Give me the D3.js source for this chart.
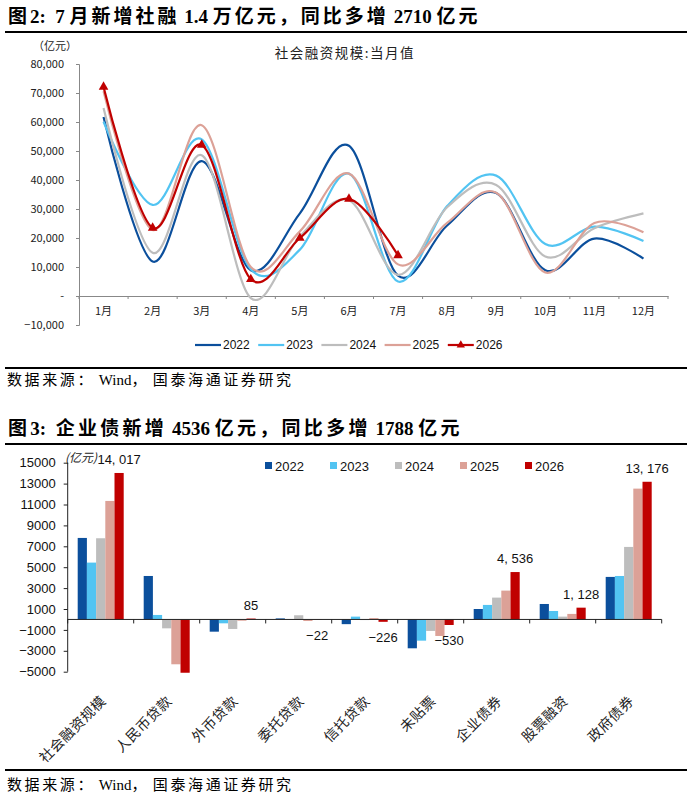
<!DOCTYPE html>
<meta charset="utf-8">
<style>
body { margin: 0; background: #fff; }
svg { display: block; }
.title { font-family: "Liberation Serif", "Noto Sans CJK SC", serif; font-weight: bold; font-size: 19px; fill: #000; white-space: pre; }
.foot { font-family: "Liberation Serif", "Noto Sans CJK SC", serif; font-size: 15px; fill: #000; }
.cjk { font-family: "Noto Sans CJK SC", sans-serif; fill: #222; }
.arial { font-family: "Liberation Sans", Arial, sans-serif; fill: #111; }
</style>
<svg width="691" height="797"></svg>
<script src="https://d3js.org/d3.v7.min.js"></script>
<script>

// ---- chart 1: 社会融资规模 当月值 (亿元)
var months = ["1月","2月","3月","4月","5月","6月","7月","8月","9月","10月","11月","12月"];
var years = ["2022","2023","2024","2025","2026"];
var tsf2022 = [61700, 11900, 46500, 8900, 28500, 51800, 7000, 24300, 35500, 8900, 19800, 12900];
var tsf2023 = [60100, 31400, 54000, 9200, 16000, 42200, 5000, 31000, 41500, 17900, 23900, 19000];
var tsf2024 = [64800, 14900, 48500, -700, 20600, 33000, 7300, 30600, 38300, 13600, 23400, 28500];
var tsf2025 = [70600, 22800, 58900, 10000, 22300, 42200, 10900, 25200, 35600, 8100, 25200, 22000];
var tsf2026 = [72100, 23500, 52100, 5800, 20000, 33500, 14000];
var yTicks1 = [-10000, 0, 10000, 20000, 30000, 40000, 50000, 60000, 70000, 80000];

// ---- chart 2: 社融分项 7月 (亿元)
var cats = ["社会融资规模","人民币贷款","外币贷款","委托贷款","信托贷款","未贴票","企业债券","股票融资","政府债券"];
var bar2022 = [7800, 4160, -1170, 100, -450, -2760, 1000, 1480, 4070];
var bar2023 = [5440, 430, -370, 30, 270, -2030, 1390, 810, 4160];
var bar2024 = [7770, -850, -910, 400, -60, -1100, 2090, 270, 6940];
var bar2025 = [11340, -4290, -120, -150, 130, -1580, 2760, 530, 12520];
var bar2026 = [14017, -5100, 85, -22, -226, -530, 4536, 1128, 13176];
var yTicks2 = [-5000, -3000, -1000, 1000, 3000, 5000, 7000, 9000, 11000, 13000, 15000];

var colors = ["#0b4f9c", "#52c4f2", "#bdbdbd", "#dca197", "#c00000"];

var svg = d3.select("svg");
svg.append("rect").attr("width", 691).attr("height", 797).attr("fill", "#fff");

function rule(y) {
  svg.append("line").attr("x1", 5).attr("x2", 687).attr("y1", y).attr("y2", y)
    .attr("stroke", "#000").attr("stroke-width", 2);
}
function fmtThin(v) { return d3.format(",")(v).replace(/,/g, ", ").replace("-", "−"); }

// text with wider spacing on the Chinese runs only
function spaced(sel, str, ls) {
  var runs = str.match(/[\x00-\x7f]+|[^\x00-\x7f]+/g);
  runs.forEach(function(r) {
    sel.append("tspan").style("letter-spacing", /[^\x00-\x7f]/.test(r) ? ls + "px" : "0px").text(r);
  });
  return sel;
}

// ===================== chart 1 =====================
spaced(svg.append("text").attr("class", "title").attr("x", 8).attr("y", 23),
  "图2:  7 月新增社融 1.4 万亿元，同比多增 2710 亿元", 3);
rule(32);

var x1 = d3.scaleBand().domain(months).range([79, 668]);
var y1 = d3.scaleLinear().domain([-10000, 80000]).range([325, 64]);

svg.append("text").attr("class", "cjk").attr("x", 345).attr("y", 58)
  .attr("text-anchor", "middle").style("font-size", "13.5px").style("letter-spacing", "1.5px")
  .text("社会融资规模:当月值");
svg.append("text").attr("class", "cjk").attr("x", 33).attr("y", 50)
  .style("font-size", "11px").text("（亿元）");

// y axis
var gy1 = svg.append("g").attr("transform", "translate(79,0)")
  .call(d3.axisLeft(y1).tickValues(yTicks1).tickSize(3).tickPadding(12)
    .tickFormat(function(d) { return d === 0 ? "-" : d3.format(",")(d).replace("-", "−"); }));
gy1.selectAll("text").attr("class", "cjk").style("font-size", "11px");
gy1.selectAll("line, path").attr("stroke", "#888");

// x axis at zero
var gx1 = svg.append("g").attr("transform", "translate(0," + y1(0) + ")")
  .call(d3.axisBottom(x1).tickSize(0).tickPadding(11));
gx1.select("path").attr("stroke", "#888");
gx1.selectAll("text").attr("class", "cjk").style("font-size", "11px");
gx1.selectAll(".bnd").data(months.concat(["end"])).enter().append("line")
  .attr("x1", function(d, i) { return 79 + i * x1.bandwidth(); })
  .attr("x2", function(d, i) { return 79 + i * x1.bandwidth(); })
  .attr("y1", 0).attr("y2", 3).attr("stroke", "#888");

var line1 = d3.line()
  .x(function(d, i) { return x1(months[i]) + x1.bandwidth() / 2; })
  .y(function(d) { return y1(d); })
  .curve(d3.curveCardinal.tension(0));

var series1 = [tsf2022, tsf2023, tsf2024, tsf2025, tsf2026];
series1.forEach(function(s, k) {
  svg.append("path").datum(s).attr("d", line1).attr("fill", "none")
    .attr("stroke", colors[k]).attr("stroke-width", 2.2);
});
var tri = d3.symbol().type(d3.symbolTriangle).size(40);
svg.selectAll(".mk").data(tsf2026).enter().append("path")
  .attr("d", tri).attr("fill", colors[4])
  .attr("transform", function(d, i) {
    return "translate(" + (x1(months[i]) + x1.bandwidth() / 2) + "," + y1(d) + ")";
  });

// legend 1
var leg1 = svg.append("g").selectAll("g").data(years).enter().append("g")
  .attr("transform", function(d, i) { return "translate(" + (195 + i * 63.2) + ",345)"; });
leg1.append("line").attr("x1", 0).attr("x2", 26).attr("stroke-width", 2.2)
  .attr("stroke", function(d, i) { return colors[i]; });
leg1.filter(function(d, i) { return i === 4; }).append("path")
  .attr("d", d3.symbol().type(d3.symbolTriangle).size(30)).attr("fill", colors[4])
  .attr("transform", "translate(13,0)");
leg1.append("text").attr("class", "arial").attr("x", 28).attr("dy", "0.35em")
  .style("font-size", "12px").text(function(d) { return d; });

rule(368);
spaced(svg.append("text").attr("class", "foot").attr("x", 7).attr("y", 385),
  "数据来源： Wind， 国泰海通证券研究", 2.6);

// ===================== chart 2 =====================
spaced(svg.append("text").attr("class", "title").attr("x", 8).attr("y", 435),
  "图3:  企业债新增 4536 亿元，同比多增 1788 亿元", 3.3);
rule(444);

var x2 = d3.scaleBand().domain(cats).range([67.7, 661.7]);
var xs = d3.scaleBand().domain(years).range([10, 56]);
var y2 = d3.scaleLinear().domain([-5000, 15000]).range([671.7, 462.7]);

var gy2 = svg.append("g").attr("transform", "translate(67.7,0)")
  .call(d3.axisLeft(y2).tickValues(yTicks2).tickSize(4).tickPadding(8).tickFormat(d3.format("d")));
gy2.selectAll("text").attr("class", "arial").style("font-size", "13px");
gy2.selectAll("line, path").attr("stroke", "#222");
gy2.select("path").attr("d", "M0," + y2(15000) + "V" + y2(-5000));

var barData = [bar2022, bar2023, bar2024, bar2025, bar2026];
years.forEach(function(yr, k) {
  svg.append("g").selectAll("rect").data(barData[k]).enter().append("rect")
    .attr("x", function(d, i) { return x2(cats[i]) + xs(yr); })
    .attr("width", xs.bandwidth())
    .attr("y", function(d) { return y2(Math.max(0, d)); })
    .attr("height", function(d) { return Math.abs(y2(d) - y2(0)); })
    .attr("fill", colors[k]);
});

// x axis at zero
var gx2 = svg.append("g").attr("transform", "translate(0," + y2(0) + ")");
gx2.append("line").attr("x1", 67.7).attr("x2", 661.7).attr("stroke", "#222");
gx2.selectAll(".bnd").data(cats.concat(["end"])).enter().append("line")
  .attr("x1", function(d, i) { return 67.7 + i * x2.bandwidth(); })
  .attr("x2", function(d, i) { return 67.7 + i * x2.bandwidth(); })
  .attr("y1", 0).attr("y2", 4).attr("stroke", "#222");

// rotated category labels
svg.append("g").selectAll("text").data(cats).enter().append("text")
  .attr("class", "cjk").style("font-size", "14px").style("letter-spacing", "0.5px")
  .attr("text-anchor", "end")
  .attr("transform", function(d) {
    return "translate(" + (x2(d) + x2.bandwidth() / 2 + 6) + ",702) rotate(-45)";
  })
  .text(function(d) { return d; });

// value labels for 2026
svg.append("g").selectAll("text").data(bar2026).enter()
  .filter(function(d, i) { return i !== 1; })
  .append("text").attr("class", "arial").style("font-size", "13px").attr("text-anchor", "middle")
  .attr("x", function(d) { var i = bar2026.indexOf(d); return x2(cats[i]) + xs("2026") + xs.bandwidth() / 2; })
  .attr("y", function(d) { return d >= 0 ? y2(d) - 9 : y2(d) + 20; })
  .text(fmtThin);

svg.append("text").attr("class", "cjk").attr("x", 65).attr("y", 462)
  .style("font-size", "12px").style("font-style", "italic").text("(亿元)");

// legend 2
var leg2 = svg.append("g").selectAll("g").data(years).enter().append("g")
  .attr("transform", function(d, i) { return "translate(" + (265 + i * 65) + ",466)"; });
leg2.append("rect").attr("x", 0).attr("y", -4).attr("width", 7).attr("height", 7)
  .attr("fill", function(d, i) { return colors[i]; });
leg2.append("text").attr("class", "arial").attr("x", 10).attr("dy", "0.35em")
  .style("font-size", "13px").text(function(d) { return d; });

rule(770);
spaced(svg.append("text").attr("class", "foot").attr("x", 7).attr("y", 790),
  "数据来源： Wind， 国泰海通证券研究", 2.6);

</script>
